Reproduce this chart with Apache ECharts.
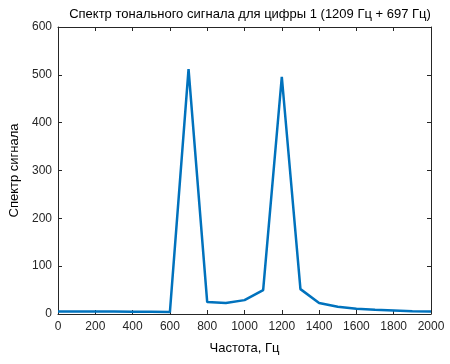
<!DOCTYPE html>
<html><head><meta charset="utf-8">
<script src="https://cdn.jsdelivr.net/npm/echarts@6/dist/echarts.min.js"></script>
<style>html,body{margin:0;padding:0;background:#fff}#c{width:450px;height:364px}</style>
</head><body><div id="c"></div>
<script>
const freqs = [0,100,200,300,400,500,600,700,800,900,1000,1100,1200,1300,1400,1500,1600,1700,1800,1900,2000];
const spectrum = [5,5,5,5,4.5,4.5,4,512,25,23,29,50,496,52,23,15,11,9,7.5,6,5];
const xTicks = [0,200,400,600,800,1000,1200,1400,1600,1800,2000];
const yTicks = [0,100,200,300,400,500,600];

const font = 'Liberation Sans, Arial, sans-serif';
const axCol = '#262626';
const chart = echarts.init(document.getElementById('c'));
const axisCommon = {
  axisLine:{show:true,onZero:false,lineStyle:{color:axCol,width:1}},
  axisTick:{show:true,inside:true,length:4,lineStyle:{color:axCol}},
  splitLine:{show:false}
};
const fmt = v => String(v);
chart.setOption({
  animation:false,
  title:{text:'Спектр тонального сигнала для цифры 1 (1209 Гц + 697 Гц)',left:245,top:3,textAlign:'center',
    textStyle:{fontFamily:font,fontSize:13,fontWeight:'normal',color:'#000'}},
  grid:{left:58,right:19,top:27,bottom:50,containLabel:false},
  xAxis:[
    Object.assign({type:'value',min:xTicks[0],max:xTicks[xTicks.length-1],interval:200,position:'bottom',
      name:'Частота, Гц',nameLocation:'middle',nameGap:28,
      nameTextStyle:{fontFamily:font,fontSize:13,color:'#000'},
      axisLabel:{fontFamily:font,fontSize:12,color:axCol,margin:7,formatter:fmt}},axisCommon),
    Object.assign({type:'value',min:xTicks[0],max:xTicks[xTicks.length-1],interval:200,position:'top',
      axisLabel:{show:false}},axisCommon)
  ],
  yAxis:[
    Object.assign({type:'value',min:yTicks[0],max:yTicks[yTicks.length-1],interval:100,position:'left',
      name:'Спектр сигнала',nameLocation:'middle',nameGap:30,nameRotate:90,
      nameTextStyle:{fontFamily:font,fontSize:13,color:'#000'},
      axisLabel:{fontFamily:font,fontSize:12,color:axCol,margin:6,formatter:fmt}},axisCommon),
    Object.assign({type:'value',min:yTicks[0],max:yTicks[yTicks.length-1],interval:100,position:'right',
      axisLabel:{show:false}},axisCommon)
  ],
  series:[{type:'line',data:freqs.map((f,i)=>[f,spectrum[i]]),showSymbol:false,
    lineStyle:{color:'#0072BD',width:2.5},itemStyle:{color:'#0072BD'}}]
});
</script></body></html>
